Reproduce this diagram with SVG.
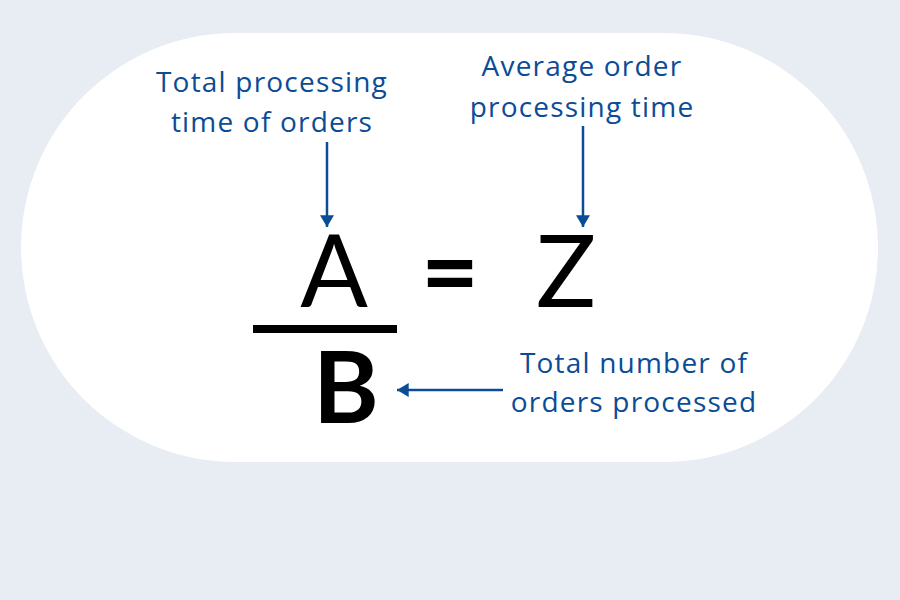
<svg xmlns="http://www.w3.org/2000/svg" width="900" height="600" viewBox="0 0 900 600">
<defs>
<style>
.lbl{font-family:"Open Sans",Lato,"Liberation Sans",sans-serif;font-size:28px;font-weight:500;fill:#0b4c96;text-anchor:middle;letter-spacing:1.2px}
.eq{font-family:Lato,"Open Sans","Liberation Sans",sans-serif;font-size:100px;fill:#000;text-anchor:middle}
.conn{stroke:#0b4c96;stroke-width:2.5;fill:none}
</style>
<marker id="ah" markerUnits="userSpaceOnUse" markerWidth="14" markerHeight="14" viewBox="0 0 10 12" refX="10" refY="6" orient="auto">
<path d="M0,0 L10,6 L0,12 Z" fill="#0b4c96"/>
</marker>
</defs>
<rect width="900" height="600" fill="#e8edf4"/>
<rect x="21" y="33" width="857" height="429" rx="214.5" fill="#ffffff"/>
<g id="label-total-time">
<text class="lbl" x="272" y="92">Total processing</text>
<text class="lbl" x="272" y="132">time of orders</text>
</g>
<g id="label-average">
<text class="lbl" x="582" y="76">Average order</text>
<text class="lbl" x="582" y="117">processing time</text>
</g>
<g id="label-total-number">
<text class="lbl" x="634" y="373">Total number of</text>
<text class="lbl" x="634" y="412">orders processed</text>
</g>
<g id="node-A"><text class="eq" x="334" y="307">A</text></g>
<g id="node-eq"><text class="eq" x="450" y="307" font-weight="bold">=</text></g>
<g id="node-Z"><text class="eq" x="566" y="307">Z</text></g>
<g id="node-bar"><rect x="253" y="325" width="144" height="8" fill="#000"/></g>
<g id="node-B"><text class="eq" x="346" y="423" font-weight="bold">B</text></g>
<g id="connectors">
<line class="conn" x1="327" y1="142" x2="327" y2="227" marker-end="url(#ah)"/>
<line class="conn" x1="583" y1="126" x2="583" y2="227" marker-end="url(#ah)"/>
<line class="conn" x1="503" y1="390" x2="397" y2="390" marker-end="url(#ah)"/>
</g>
</svg>
